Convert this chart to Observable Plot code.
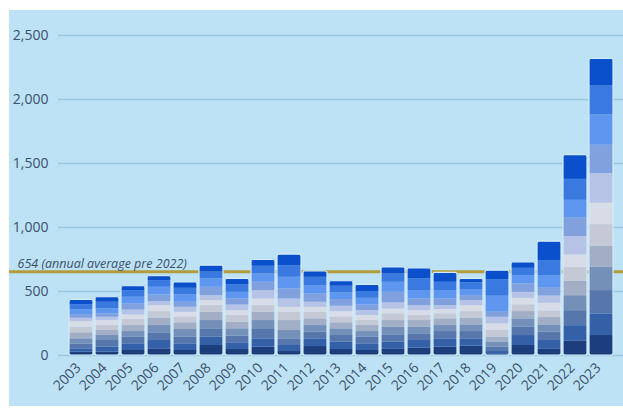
<!DOCTYPE html>
<html>
<head>
<meta charset="utf-8">
<script src="https://cdn.jsdelivr.net/npm/d3@7"></script>
<script src="https://cdn.jsdelivr.net/npm/@observablehq/plot@0.6"></script>
<style>
  html, body { margin: 0; padding: 0; background: #ffffff; }
  #wrap { position: relative; width: 623px; height: 408px; overflow: hidden; }
  #bg { position: absolute; left: 9px; top: 10px; width: 614px; height: 396px; background: #bde2f5; }
  #chart { position: absolute; left: 0; top: 0; }
  #chart svg { background: transparent !important; }
</style>
</head>
<body>
<div id="wrap"><div id="bg"></div><div id="chart"></div></div>
<script>
const years = ["2003","2004","2005","2006","2007","2008","2009","2010","2011","2012","2013","2014","2015","2016","2017","2018","2019","2020","2021","2022","2023"];
const months = ["Jan","Feb","Mar","Apr","May","Jun","Jul","Aug","Sep","Oct","Nov","Dec"];
// values per month (stacked bottom to top), one entry per year
const jan = [26,26,39,52,39,78,47,65,31,70,47,39,52,57,65,73,13,78,52,111,156];
const feb = [26,39,52,65,52,65,52,65,47,60,57,52,52,60,65,57,18,78,65,122,169];
const mar = [36,52,52,60,52,65,52,73,52,52,52,52,57,52,57,57,34,65,65,117,182];
const apr = [42,39,44,57,60,65,57,70,65,52,52,44,60,52,47,52,39,65,57,117,182];
const may = [47,39,47,57,52,65,52,65,78,52,47,47,52,52,52,52,39,57,57,111,164];
const jun = [44,39,47,52,44,52,52,52,65,52,44,39,52,39,39,52,52,52,52,109,169];
const jul = [44,39,36,47,39,39,39,52,39,39,44,39,39,39,34,47,52,52,60,99,169];
const aug = [26,26,39,31,39,39,44,65,65,39,42,39,47,39,31,39,52,47,57,143,231];
const sep = [29,26,47,52,39,65,47,65,78,65,52,44,83,52,52,39,44,65,65,148,221];
const oct = [36,39,52,60,57,65,52,65,91,65,52,52,78,65,65,47,120,65,91,135,236];
const nov = [39,52,52,52,52,57,57,60,91,65,52,52,65,91,65,52,127,57,117,164,226];
const dec = [39,39,34,34,47,47,47,49,86,47,39,52,52,83,73,31,73,47,151,189,213];
const monthColors = ["#1c3e7c","#3460a8","#5676ac","#7490b8","#a2aec5","#c4c9d5","#d7dce6","#b6c3e6","#80a1de","#5f96ef","#3a7ae0","#0a4fcb"];
const yTicks = [0,500,1000,1500,2000,2500];
const avgValue = 654;
const avgLabel = "654 (annual average pre 2022)";

const series = [jan,feb,mar,apr,may,jun,jul,aug,sep,oct,nov,dec];
const data = [];
series.forEach((arr, mi) => arr.forEach((v, yi) => data.push({year: years[yi], month: months[mi], value: v})));
const totals = years.map((y, i) => ({year: y, total: d3.sum(series, s => s[i])}));

const textColor = "#3a506b";
const chart = Plot.plot({
  width: 623,
  height: 408,
  marginLeft: 58,
  marginRight: 0,
  marginTop: 35,
  marginBottom: 53,
  style: {fontFamily: "'Open Sans', sans-serif", background: "transparent", color: textColor},
  x: {domain: years, padding: 0.08, label: null},
  y: {domain: [0, 2500], range: [355, 35], label: null},
  color: {domain: months, range: monthColors},
  marks: [
    Plot.gridY(yTicks, {stroke: "#98c8e2", strokeOpacity: 1, strokeWidth: 1.5}),
    Plot.ruleY([avgValue], {stroke: "#b39c3c", strokeWidth: 3, insetLeft: -49}),
    Plot.text([avgValue], {y: d => d, frameAnchor: "left", dx: -41, dy: -8, textAnchor: "start", text: () => avgLabel, fontStyle: "italic", fontSize: 12.5, fill: textColor}),
    Plot.barY(data, {x: "year", y: "value", fill: "month"}),
    Plot.barY(totals, {x: "year", y: "total", fill: "none", stroke: "#d5ecf9", strokeWidth: 1.2, rx: 2}),
    Plot.axisY(yTicks, {tickSize: 0, tickPadding: 10, tickFormat: d3.format(","), fontSize: 14, fill: textColor, label: null}),
    Plot.axisX({tickSize: 0, tickPadding: 4, dx: -3, dy: 6, tickRotate: -45, fontSize: 14, fill: textColor, label: null})
  ]
});
document.getElementById("chart").appendChild(chart);
</script>
</body>
</html>
